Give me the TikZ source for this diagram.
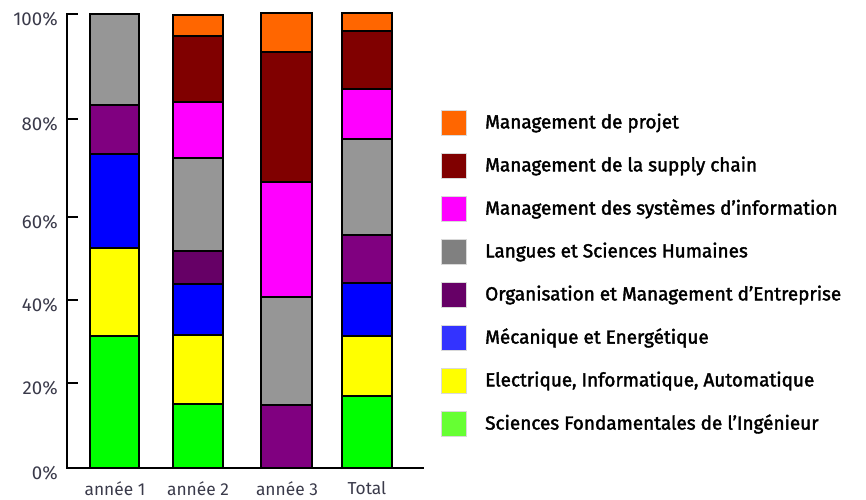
\documentclass[tikz,border=0pt]{standalone}
\usepackage{fontspec}
\setmainfont{Fira Sans}
\usetikzlibrary{positioning}

\definecolor{projet}{HTML}{FF6600}
\definecolor{supply}{HTML}{800000}
\definecolor{sysinfo}{HTML}{FF00FF}
\definecolor{langues}{HTML}{969696}
\definecolor{langueskey}{HTML}{808080}
\definecolor{orga}{HTML}{800080}
\definecolor{orgadark}{HTML}{660066}
\definecolor{meca}{HTML}{0000FF}
\definecolor{mecakey}{HTML}{3333FF}
\definecolor{elec}{HTML}{FFFF00}
\definecolor{fonda}{HTML}{00FF00}
\definecolor{fondakey}{HTML}{66FF33}
\definecolor{axistext}{HTML}{3A3A4A}

\begin{document}
\begin{tikzpicture}[
  x=0.75pt, y=-0.75pt,
  seg/.style={draw=black, line width=0.9pt},
  axis/.style={line width=1.5pt, line cap=rect},
  ticklabel/.style={anchor=east, inner sep=0pt, text=axistext, font=\fontsize{14}{14}\selectfont},
  catlabel/.style={anchor=north, inner sep=0pt, text=axistext, font=\fontsize{13}{13}\selectfont},
  key/.style={minimum size=18.75pt, inner sep=0pt, draw=white!85!black, line width=0.4pt},
  keytext/.style={anchor=west, inner sep=0pt, font=\fontsize{14.2}{15}\selectfont\addfontfeature{FakeBold=2}},
  node distance=14pt,
  ]
  \useasboundingbox (0,0) rectangle (866,499);

  % bars: left edge / top / bottom / colour
  \foreach \x/\a/\b/\c in {90/14/105/langues, 90/105/154/orga, 90/154/248/meca,
                           90/248/336/elec, 90/336/468/fonda}
    \draw[seg, fill=\c] (\x,\a) rectangle (\x+49,\b);
  \foreach \x/\a/\b/\c in {173/15/36/projet, 173/36/102/supply, 173/102/158/sysinfo,
                           173/158/251/langues, 173/251/284/orgadark, 173/284/335/meca,
                           173/335/404/elec, 173/404/468/fonda}
    \draw[seg, fill=\c] (\x,\a) rectangle (\x+50,\b);
  \foreach \x/\a/\b/\c in {261/13/52/projet, 261/52/182/supply, 261/182/297/sysinfo,
                           261/297/405/langues, 261/405/468/orga}
    \draw[seg, fill=\c] (\x,\a) rectangle (\x+51,\b);
  \foreach \x/\a/\b/\c in {342/13/31/projet, 342/31/89/supply, 342/89/139/sysinfo,
                           342/139/235/langues, 342/235/283/orga, 342/283/336/meca,
                           342/336/396/elec, 342/396/468/fonda}
    \draw[seg, fill=\c] (\x,\a) rectangle (\x+50,\b);

  % axes
  \draw[axis] (77,14) -- (67,14) -- (67,468) -- (423,468);
  \foreach \y/\t in {14/100, 119/80, 217/60, 300/40, 383/20, 468/0} {
    \draw[axis] (67,\y) -- (77,\y);
    \node[ticklabel] (t\t) at (58,\y+5) {\t\%};
  }

  \node[catlabel] (an1) at (115,481) {année 1};
  \node[catlabel] (an2) at (198,481) {année 2};
  \node[catlabel] (an3) at (287,481) {année 3};
  \node[catlabel] (tot) at (367,481) {Total};

  % legend
  \foreach \c/\t [count=\i] in {projet/{Management de projet},
      supply/{Management de la supply chain},
      sysinfo/{Management des systèmes d’information},
      langueskey/{Langues et Sciences Humaines},
      orgadark/{Organisation et Management d’Entreprise},
      mecakey/{Mécanique et Energétique},
      elec/{Electrique, Informatique, Automatique},
      fondakey/{Sciences Fondamentales de l’Ingénieur}} {
    \node[key, fill=\c] (key\i) at (453.5,{123+43*(\i-1)}) {};
    \node[keytext, right=of key\i] (txt\i) {\t};
  }
\end{tikzpicture}
\end{document}
